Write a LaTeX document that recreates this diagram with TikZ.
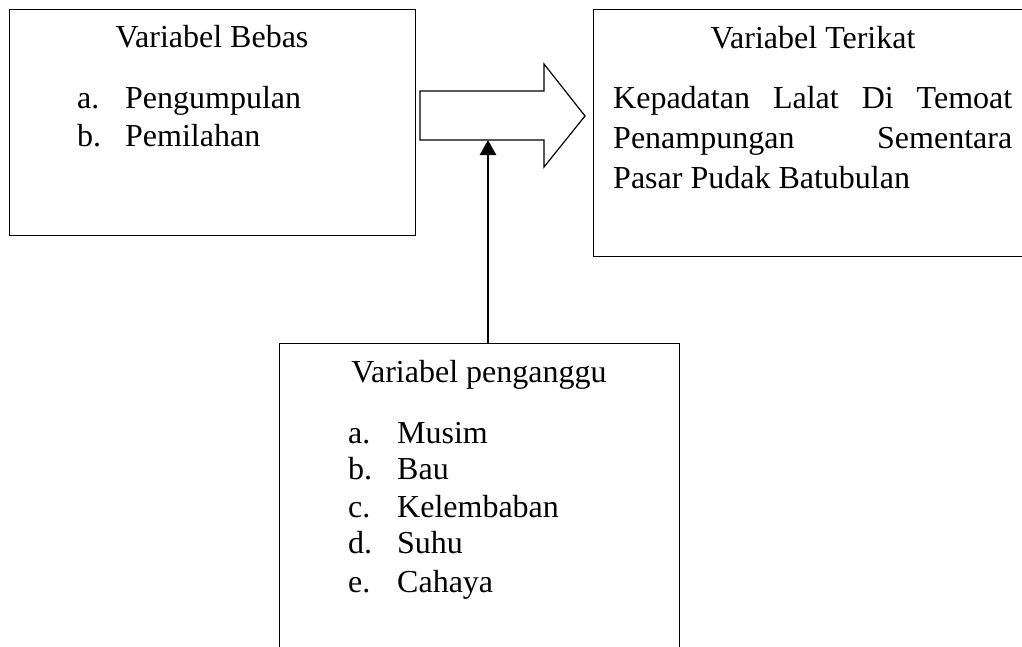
\documentclass[tikz,border=0pt]{standalone}
\usepackage{fontspec}
\setmainfont{Liberation Serif}
\usetikzlibrary{arrows.meta}
\begin{document}
\begin{tikzpicture}[x=1pt,y=-1pt,
  box/.style={draw, line width=1.2pt, rectangle, inner sep=0pt, anchor=north west},
  txt/.style={inner sep=0pt, font=\fontsize{32}{40}\selectfont},
  lbl/.style={txt, anchor=base west},
  ttl/.style={txt, anchor=base},
  conn/.style={line width=2.6pt, -{Triangle[length=15pt,width=16pt]}}]
\clip (0,0) rectangle (1022,646);
\fill[white] (0,0) rectangle (1022,646);
% boxes
\node[box, minimum width=406pt, minimum height=226pt] (bebas) at (9,9) {};
\node[box, minimum width=442pt, minimum height=247pt] (terikat) at (593,9) {};
\node[box, minimum width=400pt, minimum height=340pt] (ganggu) at (279,343) {};
% left box text
\node[ttl] (t-bebas) at (212,47) {Variabel Bebas};
\node[lbl] (b-a) at (77,108) {a.};
\node[lbl] (b-a2) at (125,108) {Pengumpulan};
\node[lbl] (b-b) at (77,146) {b.};
\node[lbl] (b-b2) at (125,146) {Pemilahan};
% right box text
\node[ttl] (t-terikat) at (813,48) {Variabel Terikat};
\node[lbl] (r1) at (613,108) {\makebox[399pt][s]{Kepadatan Lalat Di Temoat}};
\node[lbl] (r2) at (613,148) {\makebox[399pt][s]{Penampungan Sementara}};
\node[lbl] (r3) at (613,188) {Pasar Pudak Batubulan};
% bottom box text
\node[ttl] (t-ganggu) at (479,382) {Variabel penganggu};
\node[lbl] (g-a) at (348,443) {a.};
\node[lbl] (g-a2) at (397,443) {Musim};
\node[lbl] (g-b) at (348,479) {b.};
\node[lbl] (g-b2) at (397,479) {Bau};
\node[lbl] (g-c) at (348,517) {c.};
\node[lbl] (g-c2) at (397,517) {Kelembaban};
\node[lbl] (g-d) at (348,553) {d.};
\node[lbl] (g-d2) at (397,553) {Suhu};
\node[lbl] (g-e) at (348,592) {e.};
\node[lbl] (g-e2) at (397,592) {Cahaya};
% block arrow
\draw[line width=1.2pt, line join=miter] (420,91) -- (544,91) -- (544,64) -- (585,116) -- (544,167) -- (544,140) -- (420,140) -- cycle;
\coordinate (arrbot) at (488,140);
\coordinate (gtop) at (488,343);
\draw[conn] (gtop) -- (arrbot);
\end{tikzpicture}
\end{document}
